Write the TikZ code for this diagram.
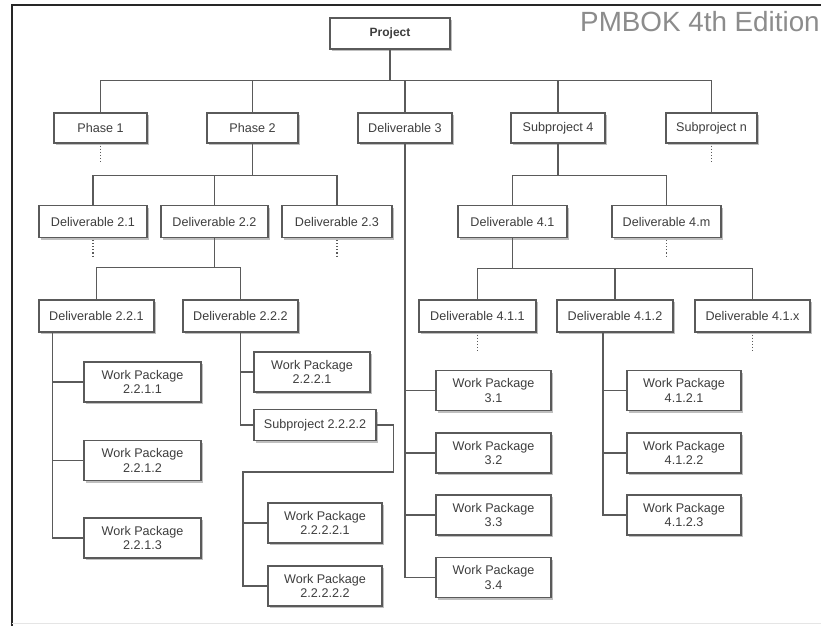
\documentclass[tikz,border=0pt]{standalone}
\usepackage{fontspec}
\setmainfont{Liberation Sans}
\usetikzlibrary{shadows,calc}
\definecolor{linegray}{HTML}{5A5A5A}
\definecolor{textgray}{HTML}{3E3E3E}
\definecolor{titlegray}{HTML}{8C8C8C}
\tikzset{
  wbs/.style={draw=linegray, line width=1.1pt, fill=white, inner sep=0pt,
    text=textgray, font=\fontsize{12.6}{14.5}\selectfont, align=center,
    drop shadow={shadow xshift=2.2pt, shadow yshift=-2.2pt, opacity=0.55, fill=black!45}},
  lvl/.style={wbs, minimum height=30pt},
  wp/.style={wbs, minimum width=116pt, minimum height=40pt},
  link/.style={draw=linegray, line width=1.3pt},
  stub/.style={draw=linegray, line width=1.1pt, dotted},
}
\begin{document}
\begin{tikzpicture}[x=1pt, y=-1pt]
\useasboundingbox (0,0) rectangle (821,626);
\clip (0,0) rectangle (821,626);
\fill[white] (0,0) rectangle (821,626);

% page frame
\draw[black!85, line width=1.6pt] (12,626) -- (12,5) -- (821,5);
\draw[gray!20, line width=1pt] (12,623) -- (821,623);

% edition label
\node[anchor=base west, inner sep=0pt, text=titlegray,
      font=\fontsize{27.8}{30}\selectfont] (title) at (580,32) {PMBOK 4th Edition};

% level 0 and 1
\node[lvl, minimum width=120pt, minimum height=31pt, font=\bfseries\fontsize{12}{14}\selectfont] (proj) at (390,33.5) {Project};
\node[lvl, minimum width=93pt] (ph1) at (100.5,128) {Phase 1};
\node[lvl, minimum width=91pt] (ph2) at (252.5,128) {Phase 2};
\node[lvl, minimum width=94pt] (d3)  at (405,128) {Deliverable 3};
\node[lvl, minimum width=94pt] (sp4) at (558,128) {Subproject 4};
\node[lvl, minimum width=91pt] (spn) at (711.5,128) {Subproject n};

% level 2
\node[lvl, minimum width=108pt, minimum height=32pt] (d21) at (93,221.5) {Deliverable 2.1};
\node[lvl, minimum width=107pt, minimum height=32pt] (d22) at (214.5,221.5) {Deliverable 2.2};
\node[lvl, minimum width=110pt, minimum height=32pt] (d23) at (337,221.5) {Deliverable 2.3};
\node[lvl, minimum width=109pt, minimum height=32pt] (d41) at (512.5,221.5) {Deliverable 4.1};
\node[lvl, minimum width=109pt, minimum height=32pt] (d4m) at (666.5,221.5) {Deliverable 4.m};

% level 3
\node[lvl, minimum width=115pt, minimum height=32pt] (d221) at (96.5,316) {Deliverable 2.2.1};
\node[lvl, minimum width=115pt, minimum height=32pt] (d222) at (240.5,316) {Deliverable 2.2.2};
\node[lvl, minimum width=117pt, minimum height=32pt] (d411) at (477.5,316) {Deliverable 4.1.1};
\node[lvl, minimum width=116pt, minimum height=32pt] (d412) at (615,316) {Deliverable 4.1.2};
\node[lvl, minimum width=115pt, minimum height=32pt] (d41x) at (752.5,316) {Deliverable 4.1.x};

% work packages
\node[wp, minimum width=117pt] (wp2211) at (142.5,382) {Work Package\\2.2.1.1};
\node[wp, minimum width=117pt] (wp2212) at (142.5,460.5) {Work Package\\2.2.1.2};
\node[wp, minimum width=117pt] (wp2213) at (142.5,538) {Work Package\\2.2.1.3};
\node[wp] (wp2221) at (312,372) {Work Package\\2.2.2.1};
\node[lvl, minimum width=122pt, minimum height=31pt] (sp2222) at (315,425) {Subproject 2.2.2.2};
\node[wp, minimum width=114pt] (wp22221) at (325,523) {Work Package\\2.2.2.2.1};
\node[wp, minimum width=114pt] (wp22222) at (325,586) {Work Package\\2.2.2.2.2};
\node[wp, minimum width=115pt] (wp31) at (493.5,390.5) {Work Package\\3.1};
\node[wp, minimum width=115pt] (wp32) at (493.5,453) {Work Package\\3.2};
\node[wp, minimum width=115pt] (wp33) at (493.5,515) {Work Package\\3.3};
\node[wp, minimum width=115pt] (wp34) at (493.5,577.5) {Work Package\\3.4};
\node[wp, minimum width=114pt] (wp4121) at (684,390.5) {Work Package\\4.1.2.1};
\node[wp, minimum width=114pt] (wp4122) at (684,453) {Work Package\\4.1.2.2};
\node[wp, minimum width=114pt] (wp4123) at (684,515) {Work Package\\4.1.2.3};

% bus junctions and spine tops
\coordinate (b0) at ($(proj.south)+(0,31)$);
\coordinate (b2) at ($(ph2.south)+(0,32)$);
\coordinate (b4) at ($(sp4.south)+(0,32)$);
\coordinate (b22) at ($(d22.south)+(0,29.5)$);
\coordinate (b41) at ($(d41.south)+(0,30.5)$);
\coordinate (s221) at ([xshift=14pt]d221.south west);
\coordinate (s412) at ([xshift=-12pt]d412.south);
\coordinate (sj) at (243,472);

% project to level 1
\draw[link] (proj.south) -- (b0);
\draw[link] (ph1.north) |- (b0) -| (spn.north);
\foreach \c in {ph2,d3,sp4}
  \draw[link] (\c.north) -- (\c.north |- b0);
% phase 2 to its deliverables
\draw[link] (ph2.south) -- (b2);
\draw[link] (d21.north) |- (b2) -| (d23.north);
\draw[link] (d22.north) -- (d22.north |- b2);
% subproject 4 to its deliverables
\draw[link] (sp4.south) -- (b4);
\draw[link] (d41.north) |- (b4) -| (d4m.north);
% deliverable 2.2 to level 3
\draw[link] (d22.south) -- (b22);
\draw[link] (d221.north) |- (b22) -| (d222.north);
% deliverable 4.1 to level 3
\draw[link] (d41.south) -- (b41);
\draw[link] (d411.north) |- (b41) -| (d41x.north);
\draw[link] (d412.north) -- (d412.north |- b41);
% work package spines
\draw[link] (s221) |- (wp2213.west);
\foreach \c in {wp2211,wp2212}
  \draw[link] (\c.west) -- (\c.west -| s221);
\draw[link] (d222.south) |- (sp2222.west);
\draw[link] (wp2221.west) -- (wp2221.west -| d222.south);
\draw[link] (sp2222.east) -- ++(17,0) |- (sj) |- (wp22222.west);
\draw[link] (wp22221.west) -- (wp22221.west -| sj);
\draw[link] (d3.south) |- (wp34.west);
\foreach \c in {wp31,wp32,wp33}
  \draw[link] (\c.west) -- (\c.west -| d3.south);
\draw[link] (s412) |- (wp4123.west);
\foreach \c in {wp4121,wp4122}
  \draw[link] (\c.west) -- (\c.west -| s412);
% dotted continuation marks
\foreach \c in {ph1,spn,d21,d23,d4m,d411,d41x}
  \draw[stub] (\c.south) ++(0,2) -- ++(0,16);
\end{tikzpicture}
\end{document}
